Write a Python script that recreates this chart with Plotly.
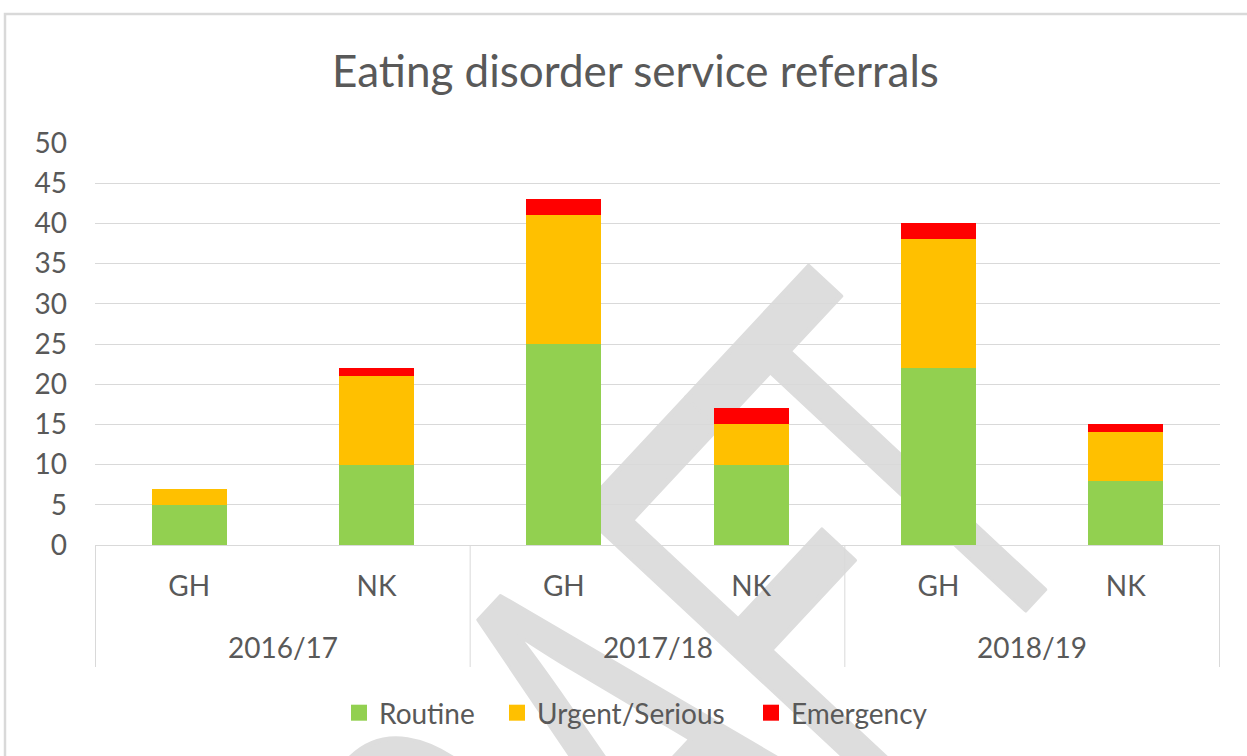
import base64
import plotly.graph_objects as go

# ---- data ----
years = ["2016/17", "2016/17", "2017/18", "2017/18", "2018/19", "2018/19"]
sites = ["GH", "NK", "GH", "NK", "GH", "NK"]
series_names = ["Routine", "Urgent/Serious", "Emergency"]
routine = [5, 10, 25, 10, 22, 8]
urgent = [2, 11, 16, 5, 16, 6]
emergency = [0, 1, 2, 2, 2, 1]
y_ticks = [0, 5, 10, 15, 20, 25, 30, 35, 40, 45, 50]
title_text = "Eating disorder service referrals"
watermark_text = "DRAFT"

# ---- style ----
colors = ["#92D050", "#FFC000", "#FF0000"]
W, H = 1247, 756
ML, MR, MT, MB = 95, 27, 143, 211
PW, PH = W - ML - MR, H - MT - MB
TEXT = "#595959"
GRID = "#D9D9D9"
FONT = "Lato"

def px_x(px):
    return (px - ML) / PW

def px_y(py):
    return (H - MB - py) / PH

# one unique category per bar; shown with the site name
cat_keys = [f"{y} {s}" for y, s in zip(years, sites)]

fig = go.Figure()
for name, vals, col in zip(series_names, [routine, urgent, emergency], colors):
    fig.add_trace(go.Bar(
        x=cat_keys, y=vals, name=name,
        marker=dict(color=col, line=dict(width=0)),
        showlegend=False, hoverinfo="x+y+name",
    ))

# legend proxies (larger square keys like the original)
legend_keys = ["legend", "legend2", "legend3"]
for name, col, key in zip(series_names, colors, legend_keys):
    fig.add_trace(go.Scatter(
        x=[None], y=[None], mode="markers", name=name, legend=key,
        marker=dict(symbol="square", size=18, color=col),
        xaxis="x2", yaxis="y2", hoverinfo="skip",
    ))

legend_left_px = [339, 497, 751]
legend_common = dict(orientation="h", xanchor="left", yanchor="middle",
                     y=px_y(713), bgcolor="rgba(0,0,0,0)",
                     font=dict(family=FONT, size=28, color=TEXT))
legends = {}
for key, lx in zip(legend_keys, legend_left_px):
    legends[key] = dict(legend_common, x=px_x(lx))

# group (year) labels and dividers, positioned on the category axis
group_names = []
group_bounds = []  # (first index, last index)
for i, yv in enumerate(years):
    if not group_names or group_names[-1] != yv:
        group_names.append(yv)
        group_bounds.append([i, i])
    else:
        group_bounds[-1][1] = i

annotations = []
shapes = []
for gname, (a, b) in zip(group_names, group_bounds):
    annotations.append(dict(text=gname, x=(a + b) / 2, xref="x", y=px_y(647), yref="paper",
                            xanchor="center", yanchor="middle", showarrow=False,
                            font=dict(family=FONT, size=28, color=TEXT)))
edges = sorted(set([a - 0.5 for a, b in group_bounds] + [b + 0.5 for a, b in group_bounds]))
for e in edges:
    shapes.append(dict(type="line", xref="x", yref="paper", x0=e, x1=e,
                       y0=0, y1=px_y(667), line=dict(color=GRID, width=1)))

# watermark + chart border drawn as an svg image below the plot
wm_head, wm_last = watermark_text[:-1], watermark_text[-1]
svg = f'''<svg xmlns="http://www.w3.org/2000/svg" width="{W}" height="{H}" viewBox="0 0 {W} {H}">
<rect x="5" y="14" width="{W+40}" height="{H+40}" fill="none" stroke="#D9D9D9" stroke-width="2.5"/>
<g transform="rotate(-47)">
<g transform="translate(-680,1166) scale(0.56,1)">
<text x="0" y="0" font-family="Liberation Sans, Arial, sans-serif" font-size="571"
 fill="#DDDDDD" stroke="#DDDDDD" stroke-width="5" stroke-linejoin="round"
 style="font-kerning:none">{wm_head}<tspan dx="-37">{wm_last}</tspan></text>
</g></g></svg>'''
src = "data:image/svg+xml;base64," + base64.b64encode(svg.encode()).decode()

fig.update_layout(
    width=W, height=H, autosize=False,
    margin=dict(l=ML, r=MR, t=MT, b=MB, pad=0),
    paper_bgcolor="white", plot_bgcolor="rgba(0,0,0,0)",
    barmode="stack", bargap=0.6,
    font=dict(family=FONT, color=TEXT, size=28),
    title=dict(text=title_text, x=635.5 / W, xref="container", xanchor="center",
               y=1 - 72 / H, yref="container", yanchor="middle",
               font=dict(family=FONT, size=44, color=TEXT)),
    xaxis=dict(type="category", tickvals=cat_keys, ticktext=sites,
               showline=True, linecolor=GRID, linewidth=1,
               ticks="", ticklabelstandoff=16,
               tickfont=dict(family=FONT, size=28, color=TEXT),
               showgrid=False, zeroline=False),
    yaxis=dict(range=[0, 50], tickvals=y_ticks, showgrid=True, gridcolor=GRID,
               gridwidth=1, zeroline=False, showline=False, ticks="",
               ticklabelstandoff=27,
               tickfont=dict(family=FONT, size=28, color=TEXT)),
    xaxis2=dict(overlaying="x", visible=False, range=[0, 1]),
    yaxis2=dict(overlaying="y", visible=False, range=[0, 1]),
    images=[dict(source=src, xref="paper", yref="paper",
                 x=px_x(0), y=px_y(0), sizex=W / PW, sizey=H / PH,
                 xanchor="left", yanchor="top", sizing="stretch", layer="below")],
    annotations=annotations,
    shapes=shapes,
    **legends,
)

fig.write_html("out.html", config={"displayModeBar": False},
               post_script="document.body.style.margin='0';document.body.style.overflow='hidden';")
